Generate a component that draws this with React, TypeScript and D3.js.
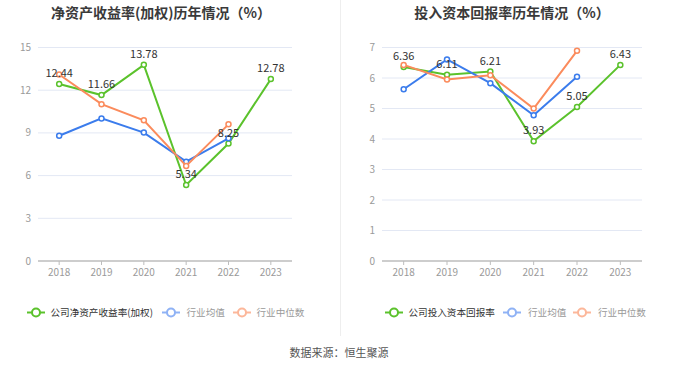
import React from "react";
import * as d3 from "d3";

const years = ["2018", "2019", "2020", "2021", "2022", "2023"];

// 净资产收益率(加权)
const roeCompany = [12.44, 11.66, 13.78, 5.34, 8.25, 12.78];
const roeAvg = [8.8, 10.02, 9.02, 6.98, 8.62];
const roeMedian = [13.1, 11.02, 9.88, 6.68, 9.6];
const roeTicks = [0, 3, 6, 9, 12, 15];

// 投入资本回报率
const roicCompany = [6.36, 6.11, 6.21, 3.93, 5.05, 6.43];
const roicAvg = [5.63, 6.61, 5.83, 4.78, 6.04];
const roicMedian = [6.43, 5.95, 6.09, 5.0, 6.89];
const roicTicks = [0, 1, 2, 3, 4, 5, 6, 7];

const GREEN = "#5bc22c";
const BLUE = "#3b7cec";
const ORANGE = "#fb8b5c";
const FONT = "'Noto Sans CJK SC', 'Noto Sans', sans-serif";

type Series = { name: string; values: number[]; color: string; legendColor: string; textColor: string; labels?: boolean };

const Panel = ({
  title,
  titleX,
  x0,
  x1,
  ticks,
  series,
  legendIcons,
  legendTexts,
}: {
  title: string;
  titleX: number;
  x0: number;
  x1: number;
  ticks: number[];
  series: Series[];
  legendIcons: number[];
  legendTexts: number[];
}) => {
  const x = d3.scaleBand<string>().domain(years).range([x0, x1]);
  const y = d3.scaleLinear().domain([0, d3.max(ticks)!]).range([261, 47.5]);
  const cx = (i: number) => x(years[i])! + x.bandwidth() / 2;
  const line = d3
    .line<number>()
    .x((_, i) => cx(i))
    .y((d) => y(d));

  return (
    <g>
      <text x={titleX} y={18} textAnchor="middle" fontSize={14} fontWeight="bold" fill="#3a3a3a">
        {title}
      </text>
      {ticks.map((t) => (
        <g key={t}>
          {t > 0 && <line x1={x0} x2={x1} y1={y(t)} y2={y(t)} stroke="#e3e8f4" strokeWidth={1} />}
          <text x={x0 - 7} y={y(t) + 3.5} textAnchor="end" fontSize={10} fill="#9a9a9a">
            {t}
          </text>
        </g>
      ))}
      <line x1={x0} x2={x1} y1={261} y2={261} stroke="#bdbdbd" strokeWidth={1.5} />
      {years.map((yr, i) => (
        <g key={yr}>
          <line x1={cx(i)} x2={cx(i)} y1={261} y2={265} stroke="#bdbdbd" />
          <text x={cx(i)} y={275.5} textAnchor="middle" fontSize={10} fill="#9a9a9a">
            {yr}
          </text>
        </g>
      ))}
      {series.map((s) => (
        <g key={s.name}>
          <path d={line(s.values) || ""} fill="none" stroke={s.color} strokeWidth={2} />
          {s.values.map((v, i) => (
            <circle key={i} cx={cx(i)} cy={y(v)} r={2.5} fill="#fff" stroke={s.color} strokeWidth={1.5} />
          ))}
        </g>
      ))}
      {series
        .filter((s) => s.labels)
        .map((s) =>
          s.values.map((v, i) => (
            <text key={s.name + i} x={cx(i)} y={y(v) - 7} textAnchor="middle" fontSize={11} fill="#333">
              {v.toFixed(2)}
            </text>
          ))
        )}
      {series.map((s, i) => (
        <g key={"lg" + s.name}>
          <line x1={legendIcons[i]} x2={legendIcons[i] + 18} y1={312.5} y2={312.5} stroke={s.legendColor} strokeWidth={2} />
          <circle cx={legendIcons[i] + 9} cy={312.5} r={4} fill="#fff" stroke={s.legendColor} strokeWidth={2} />
          <text x={legendTexts[i]} y={316} fontSize={9.6} fill={s.textColor}>
            {s.name}
          </text>
        </g>
      ))}
    </g>
  );
};

export default function App() {
  return (
    <svg
      width={680}
      height={367}
      style={{ position: "absolute", left: 0, top: 0, background: "#fff" }}
      fontFamily={FONT}
    >
      <rect width={680} height={367} fill="#fff" />
      <line x1={340.5} x2={340.5} y1={0} y2={336} stroke="#eeeeee" />
      <Panel
        title="净资产收益率(加权)历年情况（%）"
        titleX={161}
        x0={38}
        x1={292}
        ticks={roeTicks}
        legendIcons={[27, 162, 233]}
        legendTexts={[50.5, 186.5, 256.5]}
        series={[
          { name: "公司净资产收益率(加权)", values: roeCompany, color: GREEN, legendColor: GREEN, textColor: "#333", labels: true },
          { name: "行业均值", values: roeAvg, color: BLUE, legendColor: "#8fb2f5", textColor: "#999" },
          { name: "行业中位数", values: roeMedian, color: ORANGE, legendColor: "#fcb79a", textColor: "#999" },
        ]}
      />
      <Panel
        title="投入资本回报率历年情况（%）"
        titleX={512}
        x0={382}
        x1={642}
        ticks={roicTicks}
        legendIcons={[385, 503, 573]}
        legendTexts={[408.5, 528, 598]}
        series={[
          { name: "公司投入资本回报率", values: roicCompany, color: GREEN, legendColor: GREEN, textColor: "#333", labels: true },
          { name: "行业均值", values: roicAvg, color: BLUE, legendColor: "#8fb2f5", textColor: "#999" },
          { name: "行业中位数", values: roicMedian, color: ORANGE, legendColor: "#fcb79a", textColor: "#999" },
        ]}
      />
      <text x={339} y={357} textAnchor="middle" fontSize={11} fill="#555">
        数据来源：恒生聚源
      </text>
    </svg>
  );
}
